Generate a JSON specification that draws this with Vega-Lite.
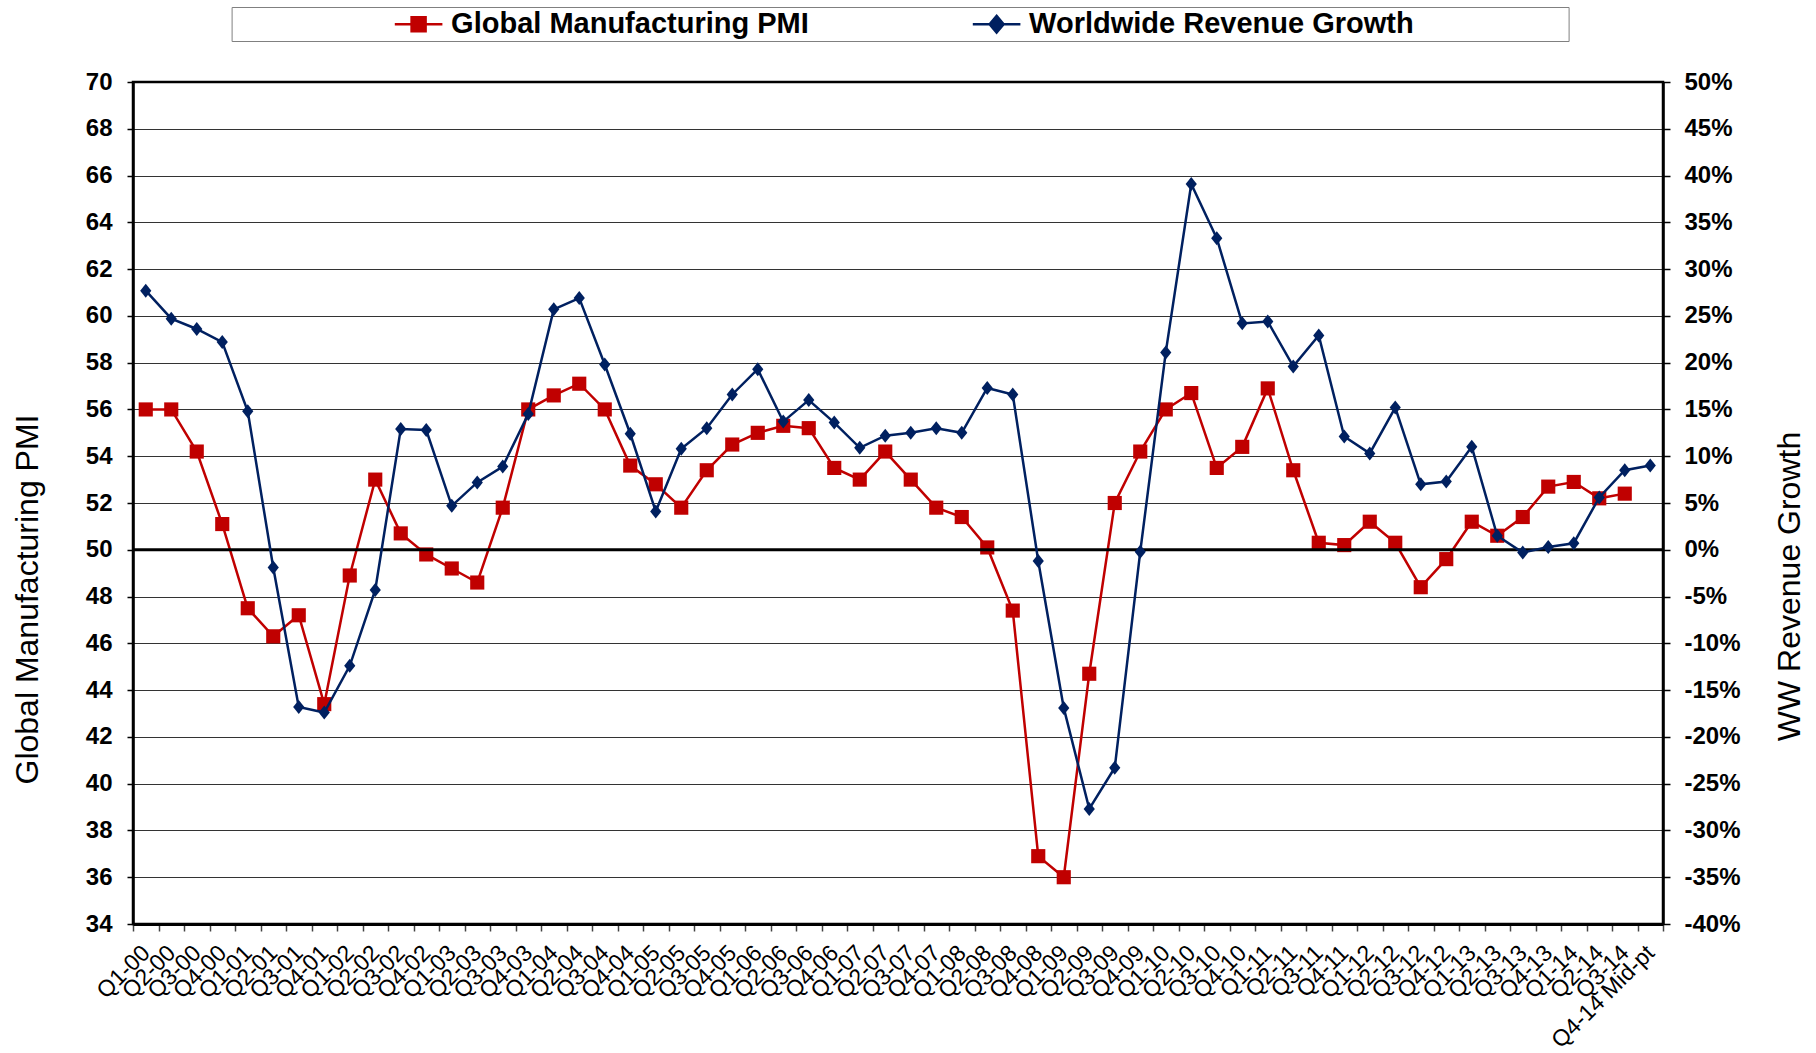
{
  "$schema": "https://vega.github.io/schema/vega-lite/v6.json",
  "width": 1530,
  "height": 842,
  "autosize": {"type": "none"},
  "padding": {"left": 133, "top": 82, "right": 153, "bottom": 129},
  "background": "#ffffff",
  "config": {
    "font": "Liberation Sans",
    "view": {"stroke": "#000000", "strokeWidth": 2.5}
  },
  "data": {"values": [
    {"q":"Q1-00","pmi":56.0,"rev":0.277},
    {"q":"Q2-00","pmi":56.0,"rev":0.247},
    {"q":"Q3-00","pmi":54.2,"rev":0.236},
    {"q":"Q4-00","pmi":51.1,"rev":0.222},
    {"q":"Q1-01","pmi":47.5,"rev":0.148},
    {"q":"Q2-01","pmi":46.3,"rev":-0.019},
    {"q":"Q3-01","pmi":47.2,"rev":-0.168},
    {"q":"Q4-01","pmi":43.4,"rev":-0.174},
    {"q":"Q1-02","pmi":48.9,"rev":-0.124},
    {"q":"Q2-02","pmi":53.0,"rev":-0.043},
    {"q":"Q3-02","pmi":50.7,"rev":0.129},
    {"q":"Q4-02","pmi":49.8,"rev":0.128},
    {"q":"Q1-03","pmi":49.2,"rev":0.047},
    {"q":"Q2-03","pmi":48.6,"rev":0.072},
    {"q":"Q3-03","pmi":51.8,"rev":0.089},
    {"q":"Q4-03","pmi":56.0,"rev":0.145},
    {"q":"Q1-04","pmi":56.6,"rev":0.257},
    {"q":"Q2-04","pmi":57.1,"rev":0.269},
    {"q":"Q3-04","pmi":56.0,"rev":0.198},
    {"q":"Q4-04","pmi":53.6,"rev":0.124},
    {"q":"Q1-05","pmi":52.8,"rev":0.041},
    {"q":"Q2-05","pmi":51.8,"rev":0.108},
    {"q":"Q3-05","pmi":53.4,"rev":0.130},
    {"q":"Q4-05","pmi":54.5,"rev":0.166},
    {"q":"Q1-06","pmi":55.0,"rev":0.193},
    {"q":"Q2-06","pmi":55.3,"rev":0.137},
    {"q":"Q3-06","pmi":55.2,"rev":0.160},
    {"q":"Q4-06","pmi":53.5,"rev":0.136},
    {"q":"Q1-07","pmi":53.0,"rev":0.109},
    {"q":"Q2-07","pmi":54.2,"rev":0.122},
    {"q":"Q3-07","pmi":53.0,"rev":0.125},
    {"q":"Q4-07","pmi":51.8,"rev":0.130},
    {"q":"Q1-08","pmi":51.4,"rev":0.125},
    {"q":"Q2-08","pmi":50.1,"rev":0.173},
    {"q":"Q3-08","pmi":47.4,"rev":0.166},
    {"q":"Q4-08","pmi":36.9,"rev":-0.012},
    {"q":"Q1-09","pmi":36.0,"rev":-0.169},
    {"q":"Q2-09","pmi":44.7,"rev":-0.277},
    {"q":"Q3-09","pmi":52.0,"rev":-0.233},
    {"q":"Q4-09","pmi":54.2,"rev":-0.002},
    {"q":"Q1-10","pmi":56.0,"rev":0.211},
    {"q":"Q2-10","pmi":56.7,"rev":0.391},
    {"q":"Q3-10","pmi":53.5,"rev":0.333},
    {"q":"Q4-10","pmi":54.4,"rev":0.242},
    {"q":"Q1-11","pmi":56.9,"rev":0.244},
    {"q":"Q2-11","pmi":53.4,"rev":0.196},
    {"q":"Q3-11","pmi":50.3,"rev":0.229},
    {"q":"Q4-11","pmi":50.2,"rev":0.121},
    {"q":"Q1-12","pmi":51.2,"rev":0.103},
    {"q":"Q2-12","pmi":50.3,"rev":0.152},
    {"q":"Q3-12","pmi":48.4,"rev":0.070},
    {"q":"Q4-12","pmi":49.6,"rev":0.073},
    {"q":"Q1-13","pmi":51.2,"rev":0.110},
    {"q":"Q2-13","pmi":50.6,"rev":0.015},
    {"q":"Q3-13","pmi":51.4,"rev":-0.003},
    {"q":"Q4-13","pmi":52.7,"rev":0.003},
    {"q":"Q1-14","pmi":52.9,"rev":0.007},
    {"q":"Q2-14","pmi":52.2,"rev":0.056},
    {"q":"Q3-14","pmi":52.4,"rev":0.085},
    {"q":"Q4-14 Mid-pt","pmi":null,"rev":0.090}
  ]},
  "layer": [
    {
      "layer": [
        {
          "mark": {"type": "line", "strokeWidth": 2.5},
          "encoding": {
            "x": {"field": "q", "type": "nominal", "sort": null,
              "scale": {"type": "band", "paddingInner": 0, "paddingOuter": 0},
              "axis": {"title": null, "labelAngle": -45, "labelAlign": "right", "labelBaseline": "middle",
                "labelFontSize": 23, "labelColor": "#000000", "labelPadding": 18, "labelOverlap": false,
                "labelFlush": false, "tickBand": "extent", "tickSize": 7, "tickColor": "#444444", "tickWidth": 1.5,
                "domainColor": "#000000", "domainWidth": 3, "grid": false}},
            "y": {"field": "pmi", "type": "quantitative",
              "scale": {"domain": [34, 70], "nice": false, "zero": false},
              "axis": {"orient": "left", "values": [34,36,38,40,42,44,46,48,50,52,54,56,58,60,62,64,66,68,70],
                "title": "Global Manufacturing PMI", "titleFontSize": 32, "titleFontWeight": "normal", "titleColor": "#000000",
                "titleX": -106, "titleY": 517, "titleAngle": 270, "titleAlign": "center", "titleBaseline": "middle",
                "labelFontSize": 24, "labelFontWeight": "bold", "labelColor": "#000000", "labelPadding": 15,
                "tickSize": 6, "tickColor": "#000000", "tickWidth": 1.5, "domainColor": "#000000", "domainWidth": 2.5,
                "grid": true, "gridColor": "#000000", "gridWidth": 1, "gridOpacity": 0.8}},
            "color": {"datum": "Global Manufacturing PMI", "type": "nominal",
              "scale": {"domain": ["Global Manufacturing PMI", "Worldwide Revenue Growth"], "range": ["#C00000", "#002060"]},
              "legend": {"orient": "none", "legendX": 98.6, "legendY": -75, "direction": "horizontal", "columns": 2,
                "title": "\u200b\u00a0\u00a0\u00a0\u00a0\u00a0\u00a0\u00a0\u00a0\u00a0\u00a0\u00a0\u00a0\u00a0\u00a0\u00a0\u00a0\u00a0\u00a0\u00a0\u00a0\u00a0\u00a0\u00a0\u00a0\u00a0\u00a0\u00a0\u00a0\u00a0\u00a0\u200b",
                "titleOrient": "left", "titleFontSize": 20, "titlePadding": 3,
                "padding": 1.5, "strokeColor": "#808080", "fillColor": "#ffffff",
                "symbolSize": 784, "labelFontSize": 29, "labelFontWeight": "bold", "labelColor": "#000000",
                "labelOffset": 17, "columnPadding": 158, "labelLimit": 2000,
                "labelExpr": "datum.label == 'Worldwide Revenue Growth' ? datum.label + '\u00a0\u00a0\u00a0\u00a0\u00a0\u00a0\u00a0\u00a0\u00a0\u00a0\u00a0\u00a0\u00a0\u00a0\u00a0\u00a0\u00a0\u00a0\u00a0\u200b' : datum.label",
                "encode": {"symbols": {"update": {
                  "shape": {"signal": "datum.value == 'Global Manufacturing PMI' ? 'M-1.7,0H1.7M-0.5,-0.5H0.5V0.5H-0.5Z' : 'M-1.7,0H1.7M0,-0.6L0.5,0L0,0.6L-0.5,0Z'"},
                  "fill": {"signal": "scale('color', datum.value)"},
                  "stroke": {"signal": "scale('color', datum.value)"},
                  "strokeWidth": {"value": 2.5},
                  "opacity": {"value": 1},
                  "fillOpacity": {"value": 1}
                }}}}}
          }
        },
        {
          "mark": {"type": "point", "filled": true, "opacity": 1, "size": 200, "shape": "square"},
          "encoding": {
            "x": {"field": "q", "type": "nominal", "sort": null},
            "y": {"field": "pmi", "type": "quantitative"},
            "color": {"datum": "Global Manufacturing PMI", "type": "nominal"}
          }
        },
        {
          "data": {"values": [{"level": 50}]},
          "mark": {"type": "rule", "color": "#000000", "strokeWidth": 3},
          "encoding": {"y": {"field": "level", "type": "quantitative"}}
        }
      ]
    },
    {
      "layer": [
        {
          "mark": {"type": "line", "strokeWidth": 2.5},
          "encoding": {
            "x": {"field": "q", "type": "nominal", "sort": null},
            "y": {"field": "rev", "type": "quantitative",
              "scale": {"domain": [-0.4, 0.5], "nice": false, "zero": false},
              "axis": {"orient": "right", "values": [-0.4,-0.35,-0.3,-0.25,-0.2,-0.15,-0.1,-0.05,0,0.05,0.1,0.15,0.2,0.25,0.3,0.35,0.4,0.45,0.5],
                "format": ".0%", "labelExpr": "replace(datum.label, '\u2212', '-')",
                "title": "WW Revenue Growth", "titleFontSize": 32, "titleFontWeight": "normal", "titleColor": "#000000",
                "titleX": 126, "titleY": 504, "titleAngle": 270, "titleAlign": "center", "titleBaseline": "middle",
                "labelFontSize": 24, "labelFontWeight": "bold", "labelColor": "#000000", "labelPadding": 14,
                "tickSize": 7, "tickColor": "#000000", "tickWidth": 1.5, "domainColor": "#000000", "domainWidth": 2.5,
                "grid": false}},
            "color": {"datum": "Worldwide Revenue Growth", "type": "nominal"}
          }
        },
        {
          "mark": {"type": "point", "filled": true, "opacity": 1, "size": 196, "shape": "M0,-1L0.8,0L0,1L-0.8,0Z"},
          "encoding": {
            "x": {"field": "q", "type": "nominal", "sort": null},
            "y": {"field": "rev", "type": "quantitative"},
            "color": {"datum": "Worldwide Revenue Growth", "type": "nominal"}
          }
        }
      ]
    }
  ],
  "resolve": {"scale": {"y": "independent"}, "axis": {"y": "independent"}}
}
